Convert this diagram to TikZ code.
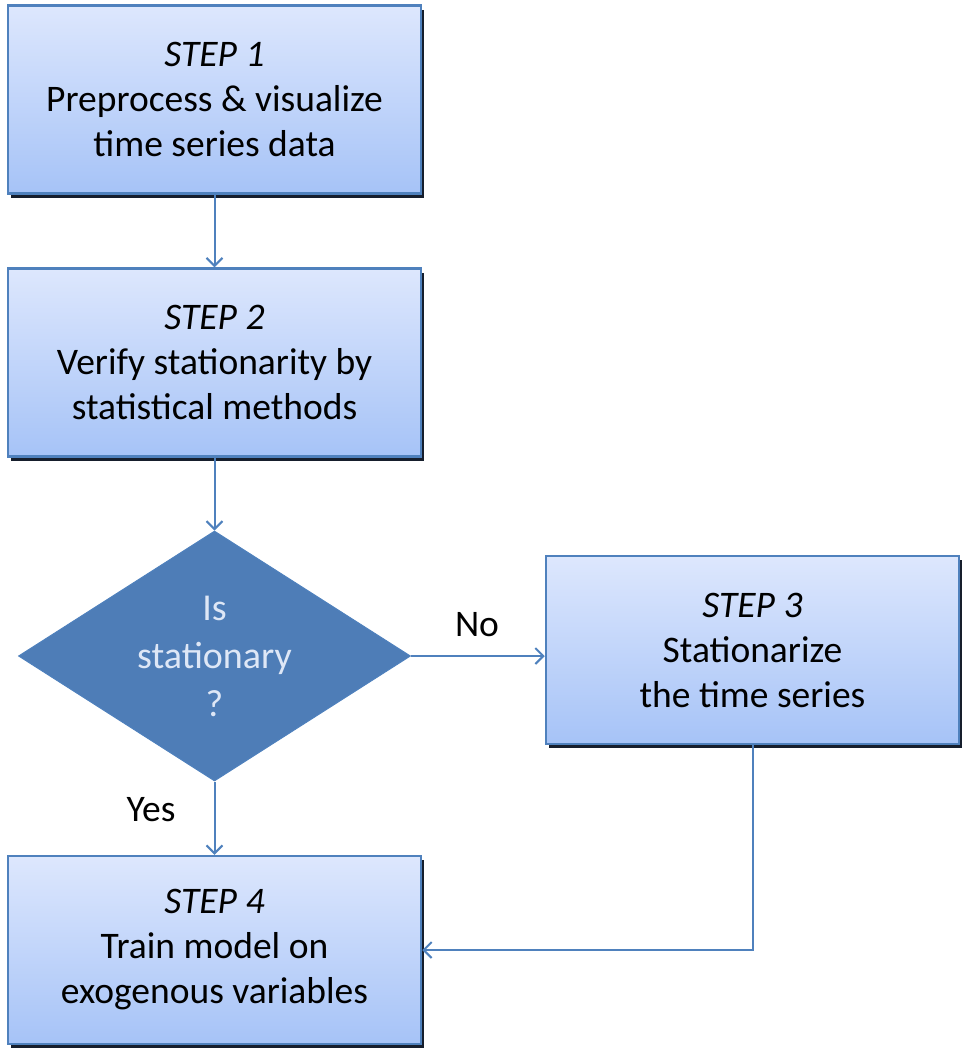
\documentclass[tikz,border=0pt]{standalone}
\usepackage{fontspec}
\setmainfont{Carlito}
\usetikzlibrary{shapes.geometric,arrows.meta}
\definecolor{edgeblue}{RGB}{79,129,189}
\definecolor{boxtop}{RGB}{221,231,253}
\definecolor{boxbot}{RGB}{166,195,247}
\definecolor{shadowc}{RGB}{22,30,44}
\definecolor{diafill}{RGB}{78,125,183}
\definecolor{diatext}{RGB}{222,231,246}
\tikzset{
  stepbox/.style={rectangle, draw=edgeblue, line width=2.5pt, top color=boxtop, bottom color=boxbot,
    minimum width=413pt, minimum height=188pt, align=center, inner sep=0pt,
    font=\fontsize{37.5pt}{45pt}\selectfont},
  shadowbox/.style={rectangle, fill=shadowc, minimum width=413pt, minimum height=188pt, inner sep=0pt},
  decision/.style={diamond, draw=edgeblue, line width=1pt, fill=diafill, text=diatext,
    minimum width=392pt, minimum height=250pt, aspect=1.57, inner sep=0pt, align=center,
    font=\fontsize{38pt}{48pt}\selectfont},
  conn/.style={draw=edgeblue, line width=2pt, -{Straight Barb[length=8pt,width=16pt,line width=2pt]}},
  lab/.style={font=\fontsize{37.5pt}{40pt}\selectfont, text=black}
}
\begin{document}
\begin{tikzpicture}[x=1pt,y=-1pt]
\useasboundingbox (0,0) rectangle (968,1055);
% shadows
\node[shadowbox] (s1) at (217.5,103.5) {};
\node[shadowbox] (s2) at (217.5,366.5) {};
\node[shadowbox] (s3) at (755.5,654) {};
\node[shadowbox] (s4) at (217.5,954) {};
% boxes
\node[stepbox] (b1) at (214.5,99.5) {\textit{STEP 1}\\Preprocess \& visualize\\time series data};
\node[stepbox] (b2) at (214.5,362.5) {\textit{STEP 2}\\Verify stationarity by\\statistical methods};
\node[decision] (d) at (214.5,656) {Is\\stationary\\?};
\node[stepbox] (b3) at (752.5,650) {\textit{STEP 3}\\Stationarize\\the time series};
\node[stepbox] (b4) at (214.5,950) {\textit{STEP 4}\\Train model on\\exogenous variables};
% connectors
\draw[conn] (b1.south) -- (b2.north);
\draw[conn] (b2.south) -- (d.north);
\draw[conn] (d.east) -- (b3.west |- d.east);
\draw[conn] (d.south) -- (b4.north);
\coordinate (c) at (b3.south |- b4.east);
\draw[conn] (b3.south) -- (c) -- (b4.east);
% labels
\node[lab] (no) at (477,625) {No};
\node[lab] (yes) at (151,810) {Yes};
\end{tikzpicture}
\end{document}
